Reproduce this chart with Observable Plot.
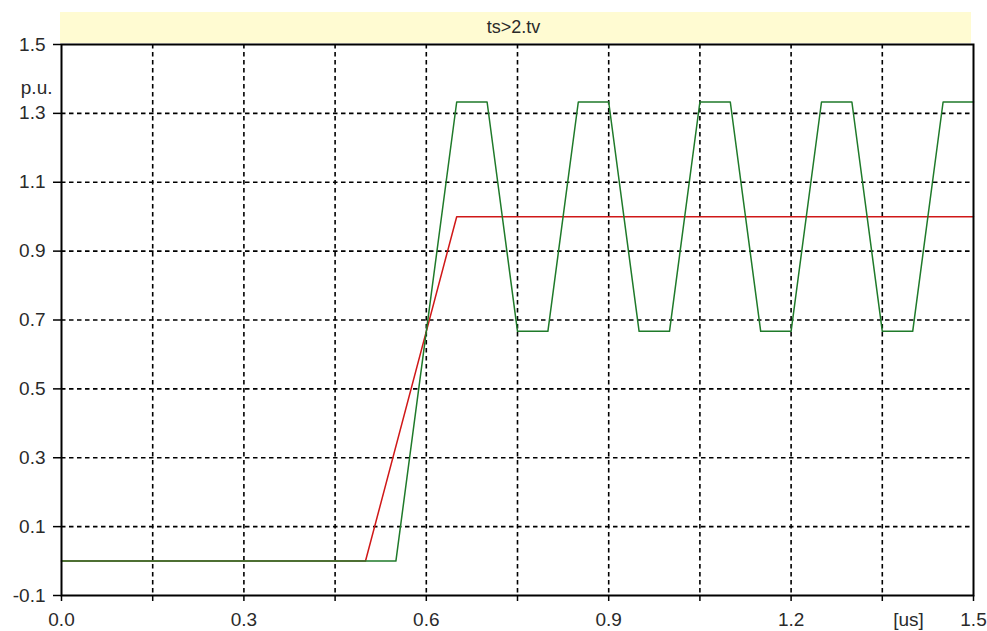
<!DOCTYPE html>
<html>
<head>
<meta charset="utf-8">
<script src="https://cdn.jsdelivr.net/npm/d3@7"></script>
<script src="https://cdn.jsdelivr.net/npm/@observablehq/plot@0.6"></script>
<style>
  html, body { margin: 0; padding: 0; background: #ffffff; }
  #wrap { position: relative; width: 987px; height: 631px; }
  #band {
    position: absolute; left: 60px; top: 12px; width: 911px; height: 31px;
    background: #fffbd2;
    font-family: "Liberation Sans", Arial, sans-serif; font-size: 18px; color: #2a2a2a;
    text-align: center; line-height: 31px; text-indent: -4px;
  }
  #chart { position: absolute; left: 0; top: 0; }
  #chart svg { overflow: visible; }
</style>
</head>
<body>
<div id="wrap">
  <div id="band">ts&gt;2.tv</div>
  <div id="chart"></div>
</div>
<script>
// Time axis in microseconds, values in per-unit
const xTicks = [0, 0.15, 0.3, 0.45, 0.6, 0.75, 0.9, 1.05, 1.2, 1.35, 1.5];
const xLabelTicks = [0, 0.3, 0.6, 0.9, 1.2, 1.5];
const yTicks = [-0.1, 0.1, 0.3, 0.5, 0.7, 0.9, 1.1, 1.3, 1.5];

// Ramp signal (red)
const redT = [0, 0.5, 0.65, 1.5];
const redV = [0, 0, 1.0, 1.0];

// Oscillating response (green)
const greenT = [0, 0.55, 0.65, 0.70, 0.75, 0.80, 0.85, 0.90, 0.95, 1.00, 1.05, 1.10, 1.15, 1.20, 1.25, 1.30, 1.35, 1.40, 1.45, 1.50];
const greenV = [0, 0, 1.333, 1.333, 0.667, 0.667, 1.333, 1.333, 0.667, 0.667, 1.333, 1.333, 0.667, 0.667, 1.333, 1.333, 0.667, 0.667, 1.333, 1.333];

const red = redT.map((t, i) => ({t, v: redV[i]}));
const green = greenT.map((t, i) => ({t, v: greenV[i]}));

const fmt = d => d.toFixed(1);
const inner = xTicks.filter(t => t > 0 && t < 1.5);
const innerY = yTicks.filter(v => v > -0.1 && v < 1.5);

const chart = Plot.plot({
  width: 987,
  height: 631,
  marginLeft: 61,
  marginRight: 14,
  marginTop: 44,
  marginBottom: 36,
  style: {fontFamily: "'Liberation Sans', Arial, sans-serif", fontSize: "19px", color: "#2a2a2a", background: "transparent"},
  x: {domain: [0, 1.5]},
  y: {domain: [-0.1, 1.5]},
  marks: [
    Plot.gridX(inner, {stroke: "#000", strokeOpacity: 1, strokeWidth: 1.6, strokeDasharray: "4.5,3.5"}),
    Plot.gridY(innerY, {stroke: "#000", strokeOpacity: 1, strokeWidth: 1.6, strokeDasharray: "4.5,3.5"}),
    Plot.axisX(xTicks, {tickSize: 6, tickFormat: () => "", label: null, stroke: "#000", strokeWidth: 1.5}),
    Plot.axisX(xLabelTicks, {tickSize: 0, tickPadding: 17, tickFormat: fmt, label: null}),
    Plot.axisY(yTicks, {tickSize: 8, tickPadding: 8, tickFormat: fmt, label: null, stroke: "#000", strokeWidth: 1.5}),
    Plot.text(["p.u."], {frameAnchor: "top-left", dx: -9, dy: 36, textAnchor: "end", fill: "#2a2a2a"}),
    Plot.text(["[us]"], {frameAnchor: "bottom-right", dx: -65, dy: 17, lineAnchor: "top", textAnchor: "middle", fill: "#2a2a2a"}),
    Plot.line(red, {x: "t", y: "v", stroke: "#d01818", strokeWidth: 1.5}),
    Plot.line(green, {x: "t", y: "v", stroke: "#1f7a2a", strokeWidth: 1.5}),
    Plot.frame({stroke: "#000", strokeWidth: 2})
  ]
});
document.getElementById("chart").appendChild(chart);
</script>
</body>
</html>
